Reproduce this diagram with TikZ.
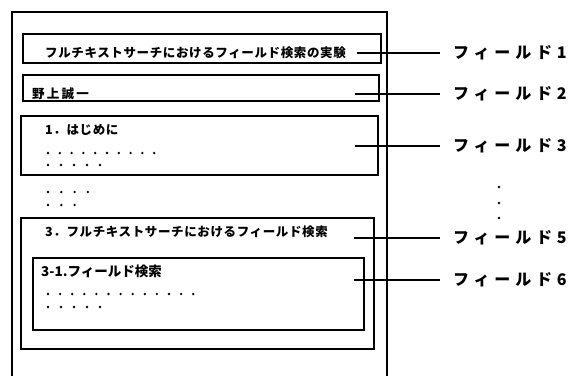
\documentclass[tikz,border=0pt]{standalone}
\usepackage{fontspec}
\newfontfamily\cjk{Noto Sans CJK JP}
\begin{document}
\begin{tikzpicture}[x=1pt,y=-1pt,
  box/.style={draw, line width=1.5pt, inner sep=0pt, anchor=north west},
  lead/.style={line width=1.4pt},
  txt/.style={anchor=west, inner sep=0pt, font=\cjk\bfseries\fontsize{12.5}{13}\selectfont\addfontfeature{LetterSpace=5}},
  wtxt/.style={anchor=west, inner sep=0pt, font=\cjk\bfseries\fontsize{12.5}{13}\selectfont\addfontfeature{LetterSpace=18}},
  lab/.style={anchor=west, inner sep=0pt, font=\cjk\bfseries\fontsize{16}{16}\selectfont\addfontfeature{LetterSpace=30}},
  dot/.style={circle, fill, inner sep=0pt, minimum size=2.6pt}]
\useasboundingbox (0,0) rectangle (569,376);
% page
\draw[line width=1.3pt] (12,376) -- (12,12) -- (387,12) -- (387,376);
% boxes
\node[box, minimum width=358pt, minimum height=29pt] (b1) at (22,33) {};
\node[box, minimum width=356pt, minimum height=26pt] (b2) at (22,74) {};
\node[box, minimum width=357pt, minimum height=59pt] (b3) at (20,115) {};
\node[box, minimum width=353pt, minimum height=131pt] (b5) at (20,217) {};
\node[box, minimum width=331pt, minimum height=72pt] (b6) at (32,257) {};
% texts
\node[txt] (t1) at (45,53) {フルチキストサーチにおけるフィールド検索の実験};
\node[wtxt] (t2) at (32,94) {野上誠一};
\node[txt] (t3) at (45,130) {1．はじめに};
\node[txt] (t5) at (45,232) {3．フルチキストサーチにおけるフィールド検索};
\node[txt, font=\cjk\bfseries\fontsize{13.5}{14}\selectfont] (t6) at (41,271) {3-1.フィールド検索};
% dots
\foreach \i in {0,...,9} \node[dot] (da\i) at (48+11.8*\i,153) {};
\foreach \i in {0,...,4} \node[dot] (db\i) at (48+13*\i,165) {};
\foreach \i in {0,...,3} \node[dot] (dc\i) at (48+13.3*\i,192) {};
\foreach \i in {0,...,2} \node[dot] (dd\i) at (48+13.3*\i,205) {};
\foreach \i in {0,...,12} \node[dot] (de\i) at (48+12.1*\i,294) {};
\foreach \i in {0,...,4} \node[dot] (df\i) at (48+13*\i,307) {};
\foreach \i/\y in {0/187,1/203,2/218} \node[dot] (dv\i) at (499,\y) {};
% labels and leaders
\node[lab] (f1) at (453,53) {フィールド1};
\node[lab] (f2) at (453,94) {フィールド2};
\node[lab] (f3) at (453,146) {フィールド3};
\node[lab] (f5) at (453,238) {フィールド5};
\node[lab] (f6) at (453,280) {フィールド6};
\coordinate (s1) at (357,53);
\coordinate (s2) at (355,94);
\coordinate (s3) at (355,146);
\coordinate (s5) at (354,238);
\coordinate (s6) at (354,280);
\foreach \k in {1,2,3,5,6} \draw[lead] (s\k) -- ([xshift=-13pt]f\k.west);
\end{tikzpicture}
\end{document}
